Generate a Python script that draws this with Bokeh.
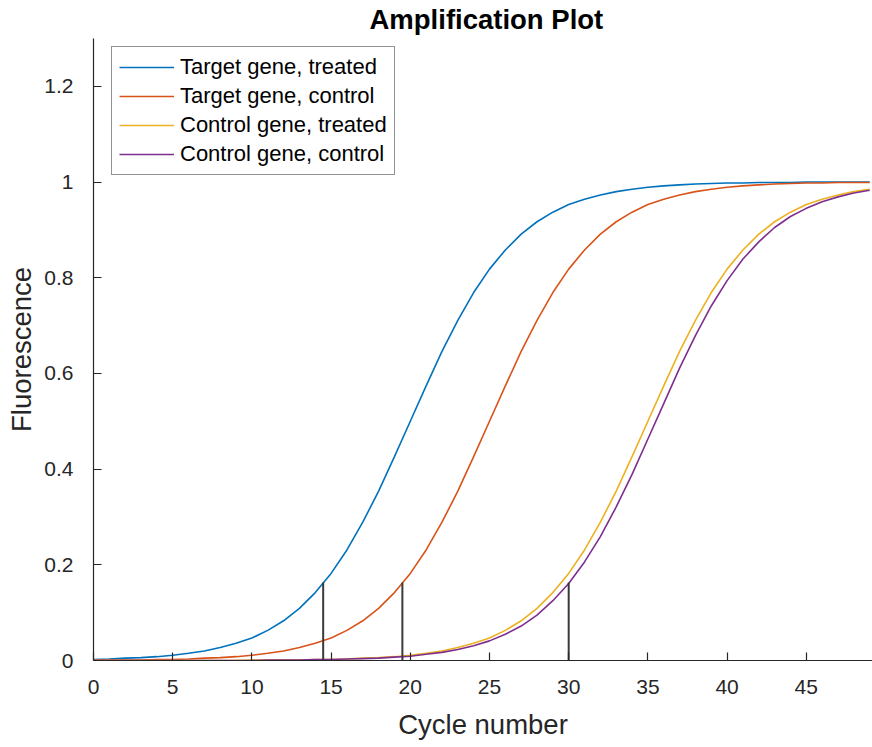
from bokeh.plotting import figure
from bokeh.models import FixedTicker, Range1d, Legend, LegendItem
from bokeh.embed import file_html
from bokeh.resources import INLINE

# ---- data ----
cycles = list(range(50))

target_treated = [0.002, 0.003, 0.005, 0.006, 0.008, 0.011, 0.015, 0.020, 0.027, 0.036,
                  0.047, 0.063, 0.083, 0.109, 0.142, 0.182, 0.231, 0.289, 0.354, 0.426,
                  0.500, 0.574, 0.646, 0.711, 0.769, 0.818, 0.858, 0.891, 0.917, 0.937,
                  0.953, 0.964, 0.973, 0.980, 0.985, 0.989, 0.992, 0.994, 0.996, 0.997,
                  0.998, 0.998, 0.999, 0.999, 0.999, 1.000, 1.000, 1.000, 1.000, 1.000]

target_control = [0.001, 0.001, 0.001, 0.001, 0.002, 0.002, 0.003, 0.005, 0.006, 0.008,
                  0.011, 0.015, 0.020, 0.027, 0.036, 0.047, 0.063, 0.083, 0.109, 0.142,
                  0.182, 0.231, 0.289, 0.354, 0.426, 0.500, 0.574, 0.646, 0.711, 0.769,
                  0.818, 0.858, 0.891, 0.917, 0.937, 0.953, 0.964, 0.973, 0.980, 0.985,
                  0.989, 0.992, 0.994, 0.996, 0.997, 0.998, 0.998, 0.999, 0.999, 0.999]

control_treated = [0.000, 0.000, 0.000, 0.000, 0.000, 0.000, 0.000, 0.000, 0.000, 0.000,
                   0.001, 0.001, 0.001, 0.001, 0.002, 0.002, 0.003, 0.005, 0.006, 0.008,
                   0.011, 0.015, 0.020, 0.027, 0.036, 0.047, 0.063, 0.083, 0.109, 0.142,
                   0.182, 0.231, 0.289, 0.354, 0.426, 0.500, 0.574, 0.646, 0.711, 0.769,
                   0.818, 0.858, 0.891, 0.917, 0.937, 0.953, 0.964, 0.973, 0.980, 0.985]

control_control = [0.000, 0.000, 0.000, 0.000, 0.000, 0.000, 0.000, 0.000, 0.000, 0.000,
                   0.000, 0.001, 0.001, 0.001, 0.002, 0.002, 0.003, 0.004, 0.005, 0.007,
                   0.009, 0.013, 0.017, 0.023, 0.031, 0.041, 0.055, 0.072, 0.095, 0.125,
                   0.161, 0.206, 0.259, 0.321, 0.389, 0.463, 0.537, 0.611, 0.679, 0.741,
                   0.794, 0.839, 0.875, 0.905, 0.928, 0.945, 0.959, 0.969, 0.977, 0.983]

series_names = ["Target gene, treated", "Target gene, control",
                "Control gene, treated", "Control gene, control"]
series_colors = ["#0072BD", "#D95319", "#EDB120", "#7E2F8E"]

ct_cycles = [14.5, 19.5, 30.0]
ct_base = [0.0, 0.0, 0.0]
ct_threshold = [0.163, 0.163, 0.163]

x_ticks = [0, 5, 10, 15, 20, 25, 30, 35, 40, 45]
y_ticks = [0.0, 0.2, 0.4, 0.6, 0.8, 1.0, 1.2]
y_tick_labels = ["0", "0.2", "0.4", "0.6", "0.8", "1", "1.2"]

FONT = "Liberation Sans"
TXT = "#262626"

p = figure(width=872, height=747, output_backend="svg", toolbar_location=None,
           x_range=Range1d(0, 49.18), y_range=Range1d(0, 1.3),
           min_border_left=93, min_border_right=0, min_border_top=38,
           min_border_bottom=87, title="Amplification Plot")

p.title.text_font = FONT
p.title.text_font_size = "27.5px"
p.title.text_font_style = "bold"
p.title.text_color = "#000000"
p.title.align = "left"
p.title.vertical_align = "top"
p.title.offset = 276
p.title.standoff = 4

p.outline_line_color = None
p.background_fill_color = "white"
p.border_fill_color = "white"
p.xgrid.visible = False
p.ygrid.visible = False

series = [target_treated, target_control, control_treated, control_control]
items = []
for name, vals, col in zip(series_names, series, series_colors):
    r = p.line(cycles, vals, line_color=col, line_width=1.6)
    items.append(LegendItem(label=name, renderers=[r]))

p.segment(x0=ct_cycles, y0=ct_base, x1=ct_cycles, y1=ct_threshold,
          line_color="#3a3a3a", line_width=2)

for ax in (p.xaxis[0], p.yaxis[0]):
    ax.axis_line_color = TXT
    ax.axis_line_width = 1.2
    ax.major_tick_line_color = TXT
    ax.major_tick_line_width = 1.2
    ax.major_tick_in = 8
    ax.major_tick_out = 0
    ax.minor_tick_line_color = None
    ax.major_label_text_font = FONT
    ax.major_label_text_font_size = "21px"
    ax.major_label_text_color = TXT
    ax.axis_label_text_font = FONT
    ax.axis_label_text_font_size = "27.5px"
    ax.axis_label_text_font_style = "normal"
    ax.axis_label_text_color = TXT

p.xaxis.ticker = FixedTicker(ticks=x_ticks)
p.yaxis.ticker = FixedTicker(ticks=y_ticks)
p.yaxis.major_label_overrides = dict(zip(y_ticks, y_tick_labels))
p.xaxis.axis_label = "Cycle number"
p.yaxis.axis_label = "Fluorescence"
p.xaxis.major_label_standoff = 19
p.xaxis.axis_label_standoff = 12
p.yaxis.major_label_standoff = 20
p.yaxis.axis_label_standoff = 4

legend = Legend(items=items, location=(18, 485),
                label_text_font=FONT, label_text_font_size="22px",
                label_text_color="#000000",
                glyph_width=55, glyph_height=22, label_height=22,
                label_standoff=6, spacing=3, padding=7, margin=0,
                border_line_color=TXT, border_line_width=1.2,
                background_fill_color="white", background_fill_alpha=1.0)
p.add_layout(legend, "center")

open("out.html", "w").write(file_html(p, INLINE))
